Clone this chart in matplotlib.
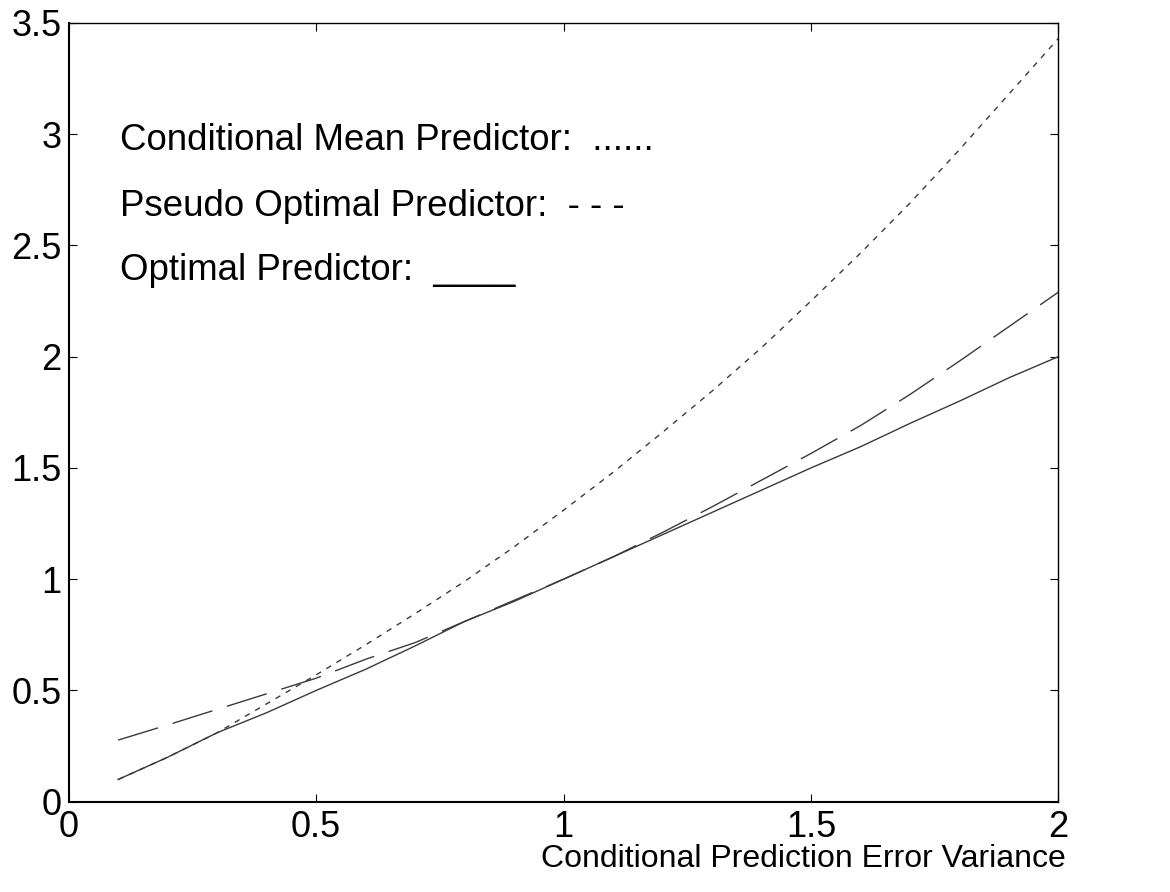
import matplotlib
matplotlib.use('Agg')
import matplotlib.pyplot as plt
from matplotlib.ticker import FuncFormatter

plt.rcParams['font.family'] = ['Liberation Sans', 'DejaVu Sans']

# conditional prediction error variance
variance = [0.1, 0.2, 0.3, 0.4, 0.5, 0.6, 0.7, 0.8, 0.9, 1.0,
            1.1, 1.2, 1.3, 1.4, 1.5, 1.6, 1.7, 1.8, 1.9, 2.0]

cond_mean = [0.10, 0.20, 0.31, 0.44, 0.57, 0.705, 0.845, 0.99, 1.145, 1.31,
             1.48, 1.66, 1.845, 2.04, 2.25, 2.465, 2.69, 2.93, 3.18, 3.43]
pseudo_opt = [0.277, 0.345, 0.415, 0.485, 0.555, 0.64, 0.715, 0.81, 0.905, 1.0,
              1.10, 1.21, 1.325, 1.445, 1.565, 1.69, 1.83, 1.98, 2.135, 2.29]
optimal = [0.10, 0.20, 0.31, 0.40, 0.50, 0.595, 0.70, 0.81, 0.90, 1.00,
           1.10, 1.20, 1.30, 1.40, 1.50, 1.595, 1.70, 1.80, 1.905, 2.00]

labels = ['Conditional Mean Predictor:  ......',
          'Pseudo Optimal Predictor:  - - -',
          'Optimal Predictor:  ____']
label_y = [2.928, 2.631, 2.343]

fig = plt.figure(figsize=(11.7, 8.92), dpi=100)
ax = fig.add_axes([0.0587, 0.1012, 0.846, 0.8733])

line_col = '#3a3a3a'
ax.plot(variance, cond_mean, color=line_col, lw=1.0, linestyle=(0, (4, 4.5)))
ax.plot(variance, pseudo_opt, color=line_col, lw=1.0, linestyle=(0, (30, 11)))
ax.plot(variance, optimal, color=line_col, lw=1.0, linestyle='-')

ax.set_xlim(0, 2)
ax.set_ylim(0, 3.5)
ax.set_xticks([0, 0.5, 1, 1.5, 2])
ax.set_yticks([0, 0.5, 1, 1.5, 2, 2.5, 3, 3.5])
fmt = FuncFormatter(lambda v, p: '%g' % v)
ax.xaxis.set_major_formatter(fmt)
ax.yaxis.set_major_formatter(fmt)

ax.tick_params(direction='in', length=6, width=0.8, labelsize=26,
               top=True, right=True, color='black')
ax.tick_params(axis='x', pad=6)
ax.tick_params(axis='y', pad=5)

for side in ['left', 'bottom']:
    ax.spines[side].set_linewidth(1.5)
for side in ['top', 'right']:
    ax.spines[side].set_linewidth(1.0)

for txt, y in zip(labels, label_y):
    ax.text(0.104, y, txt, fontsize=26.4, ha='left', va='baseline')

ax.text(2.015, -0.295, 'Conditional Prediction Error Variance', fontsize=23,
        ha='right', va='baseline', clip_on=False)

fig.savefig('out.png', dpi=100)
